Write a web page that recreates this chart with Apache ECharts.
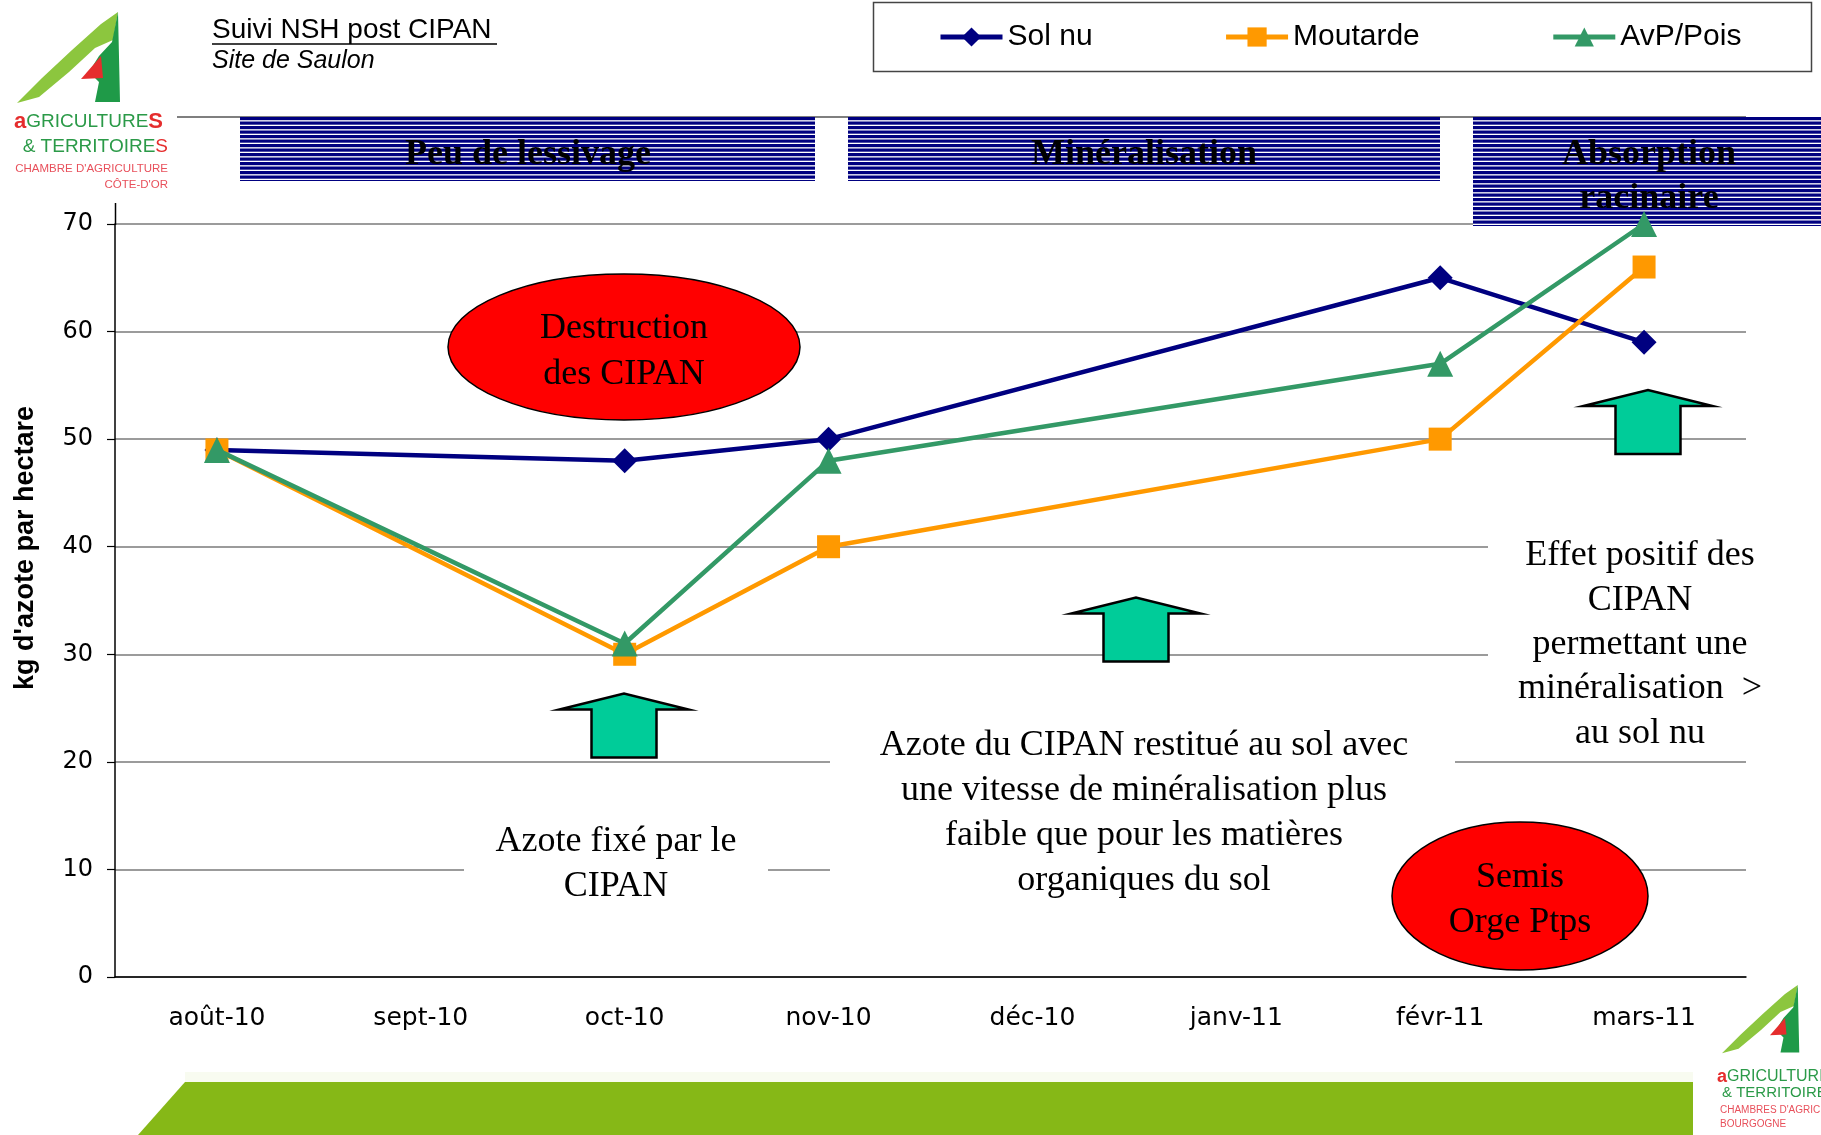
<!DOCTYPE html>
<html>
<head>
<meta charset="utf-8">
<script src="https://cdn.jsdelivr.net/npm/echarts@6.0.0/dist/echarts.min.js"></script>
<style>
html, body { margin: 0; padding: 0; background: #fff; }
#mainChart { width: 1821px; height: 1135px; }
</style>
</head>
<body>
<div id="mainChart"></div>
<script>
const months = ['août-10', 'sept-10', 'oct-10', 'nov-10', 'déc-10', 'janv-11', 'févr-11', 'mars-11'];
const solNu = [49, null, 48, 50, null, null, 65, 59];
const moutarde = [49, null, 30, 40, null, null, 50, 66];
const avpPois = [49, null, 31, 48, null, null, 57, 70];
const seriesNames = ['Sol nu', 'Moutarde', 'AvP/Pois'];
const seriesColors = ['#000080', '#FF9900', '#339966'];

// striped fill for the phase banners
function stripes() {
	const c = document.createElement('canvas');
	c.width = 8; c.height = 9;
	const ctx = c.getContext('2d');
	ctx.fillStyle = '#000080';
	ctx.fillRect(0, 0, 8, 9);
	ctx.fillStyle = '#ffffff';
	ctx.fillRect(0, 3.2, 8, 1.3);
	ctx.fillRect(0, 7.7, 8, 1.3);
	return { image: c, repeat: 'repeat' };
}
const stripeFill = stripes();

const serif = '"Liberation Serif", "Times New Roman", serif';
const sans = '"Liberation Sans", Arial, sans-serif';

function arrow(cx, tip) {
	const base = tip + 16, bottom = tip + 64;
	return {
		type: 'polygon', z: 30,
		shape: { points: [[cx - 64.5, base], [cx, tip], [cx + 64.5, base], [cx + 32.5, base], [cx + 32.5, bottom], [cx - 32.5, bottom], [cx - 32.5, base]] },
		style: { fill: '#00CC99', stroke: '#000', lineWidth: 2.5, lineJoin: 'miter' },
	};
}
function label(x, y, text, size, lh, extra) {
	return {
		type: 'text', z: 50, x, y: y + 3,
		style: Object.assign({
			text, fill: '#000', fontSize: size, fontFamily: serif, lineHeight: lh,
			align: 'center', verticalAlign: 'middle',
		}, extra || {}),
	};
}
function whiteBox(x, y, w, h) {
	return { type: 'rect', z: 10, shape: { x, y, width: w, height: h }, style: { fill: '#fff' } };
}
function banner(x, y, w, h) {
	return { type: 'rect', z: 10, shape: { x, y, width: w, height: h }, style: { fill: stripeFill } };
}
function logo(ox, oy, s, lines) {
	const p = pts => pts.map(([a, b]) => [ox + a * s, oy + b * s]);
	const items = [
		{ type: 'polygon', z: 5, shape: { points: p([[0, 91], [25, 66], [55, 38], [84, 12], [101, 0], [96, 28], [78, 36], [52, 60], [22, 85]]) }, style: { fill: '#8CC63E' } },
		{ type: 'polygon', z: 6, shape: { points: p([[101, 0], [103, 90], [78, 90], [82, 70], [72, 60], [82, 44], [95, 30]]) }, style: { fill: '#1F9A48' } },
		{ type: 'polygon', z: 7, shape: { points: p([[64, 67], [84, 44], [86, 66]]) }, style: { fill: '#E52D2D' } },
	];
	lines.forEach(l => items.push({
		type: 'text', z: 7, x: l.x, y: l.y,
		style: { text: l.text, rich: l.rich, fontSize: l.size, fontFamily: sans, fill: l.color, align: l.align || 'left', verticalAlign: 'middle' },
	}));
	return items;
}

const chart = echarts.init(document.getElementById('mainChart'));
chart.setOption({
	animation: false,
	backgroundColor: '#fff',
	grid: { left: 115, right: 75, top: 224, bottom: 158 },
	legend: {
		data: seriesNames,
		left: 938, top: 22, padding: 0,
		itemWidth: 62, itemHeight: 24, itemGap: 131,
		lineStyle: { width: 5 },
		textStyle: { fontSize: 30, fontFamily: sans, color: '#000' },
	},
	xAxis: {
		type: 'category',
		data: months,
		boundaryGap: true,
		axisLine: { lineStyle: { color: '#000', width: 1.5 } },
		axisTick: { length: 10, lineStyle: { color: '#000', width: 1.2 } },
		axisLabel: { margin: 29, fontSize: 25, fontFamily: '"DejaVu Sans", sans-serif', color: '#000' },
		splitLine: { show: false },
	},
	yAxis: {
		type: 'value',
		min: 0, max: 70, interval: 10,
		axisLine: { show: true, lineStyle: { color: '#000', width: 1.5 } },
		axisTick: { show: true, length: 8, lineStyle: { color: '#000', width: 1.2 } },
		axisLabel: { margin: 22, fontSize: 24, padding: [6, 0, 0, 0], fontFamily: '"DejaVu Sans", sans-serif', color: '#000' },
		splitLine: { lineStyle: { color: '#7a7a7a', width: 1.5 } },
	},
	series: [
		{ name: seriesNames[0], type: 'line', data: solNu, connectNulls: true, z: 20, symbol: 'diamond', symbolSize: 25, color: seriesColors[0], lineStyle: { width: 4.5, color: seriesColors[0] }, itemStyle: { color: seriesColors[0] } },
		{ name: seriesNames[1], type: 'line', data: moutarde, connectNulls: true, z: 21, symbol: 'rect', symbolSize: 23, color: seriesColors[1], lineStyle: { width: 4.5, color: seriesColors[1] }, itemStyle: { color: seriesColors[1] } },
		{ name: seriesNames[2], type: 'line', data: avpPois, connectNulls: true, z: 22, symbol: 'triangle', symbolSize: 26, color: seriesColors[2], lineStyle: { width: 4.5, color: seriesColors[2] }, itemStyle: { color: seriesColors[2] } },
	],
	graphic: [
		// header
		{ type: 'text', z: 50, x: 212, y: 30, style: { text: 'Suivi NSH post CIPAN', fontSize: 28, fontFamily: sans, fill: '#000', verticalAlign: 'middle' } },
		{ type: 'line', z: 50, shape: { x1: 212, y1: 44, x2: 497, y2: 44 }, style: { stroke: '#000', lineWidth: 1.5 } },
		{ type: 'text', z: 50, x: 212, y: 61, style: { text: 'Site de Saulon', fontSize: 25, fontStyle: 'italic', fontFamily: sans, fill: '#000', verticalAlign: 'middle' } },
		{ type: 'rect', z: 1, shape: { x: 873.5, y: 2.5, width: 938, height: 69 }, style: { fill: 'none', stroke: '#444', lineWidth: 1.5 } },
		{ type: 'line', z: 5, shape: { x1: 177, y1: 117, x2: 1746, y2: 117 }, style: { stroke: '#555', lineWidth: 1.5 } },
		{ type: 'line', z: 5, shape: { x1: 115.5, y1: 203, x2: 115.5, y2: 225 }, style: { stroke: '#000', lineWidth: 1.5 } },
		// y axis title
		{ type: 'text', z: 50, x: 26, y: 548, rotation: Math.PI / 2, style: { text: "kg d'azote par hectare", fontSize: 27, fontWeight: 'bold', fontFamily: sans, fill: '#000', align: 'center', verticalAlign: 'middle' } },
		// phases
		banner(240, 117, 575, 64),
		banner(848, 117, 592, 64),
		banner(1473, 117, 348, 109),
		label(528, 152, 'Peu de lessivage', 36, 44, { fontWeight: 'bold' }),
		label(1144, 152, 'Minéralisation', 36, 44, { fontWeight: 'bold' }),
		label(1649, 174, 'Absorption\nracinaire', 36, 44, { fontWeight: 'bold' }),
		// text boxes over the grid
		whiteBox(464, 795, 304, 110),
		whiteBox(830, 712, 625, 190),
		whiteBox(1488, 520, 300, 234),
		label(616, 861, 'Azote fixé par le\nCIPAN', 36, 44.5),
		label(1144, 810, 'Azote du CIPAN restitué au sol avec\nune vitesse de minéralisation plus\nfaible que pour les matières\norganiques du sol', 36, 44.7),
		label(1640, 641.5, 'Effet positif des\nCIPAN\npermettant une\nminéralisation  >\nau sol nu', 36, 44.3),
		// events
		{ type: 'ellipse', z: 40, shape: { cx: 624, cy: 347, rx: 176, ry: 73 }, style: { fill: '#FF0000', stroke: '#000', lineWidth: 1.5 } },
		label(624, 349, 'Destruction\ndes CIPAN', 36, 46),
		{ type: 'ellipse', z: 40, shape: { cx: 1520, cy: 896, rx: 128, ry: 74 }, style: { fill: '#FF0000', stroke: '#000', lineWidth: 1.5 } },
		label(1520, 897, 'Semis\nOrge Ptps', 36, 45.5),
		arrow(624, 693.5),
		arrow(1136, 597.5),
		arrow(1648, 390),
		// footer band
		{ type: 'rect', z: 1, shape: { x: 185, y: 1072, width: 1508, height: 10 }, style: { fill: '#F8FBF0' } },
		{ type: 'polygon', z: 2, shape: { points: [[185, 1082], [1693, 1082], [1693, 1135], [138, 1135]] }, style: { fill: '#86B817' } },
		// logos
		...logo(17, 12, 1, [
			{ x: 14, y: 122, size: 20, text: '{r|a}{g|GRICULTURE}{r|S}', rich: { r: { fill: '#E52D2D', fontSize: 22, fontWeight: 'bold', fontFamily: sans }, g: { fill: '#2B9A48', fontSize: 19, fontFamily: sans } } },
			{ x: 168, y: 147, size: 19, align: 'right', text: '{g|& TERRITOIRE}{r|S}', rich: { r: { fill: '#E52D2D', fontSize: 19, fontFamily: sans }, g: { fill: '#2B9A48', fontSize: 19, fontFamily: sans } } },
			{ x: 168, y: 169, size: 11.5, align: 'right', color: '#E8505B', text: "CHAMBRE D'AGRICULTURE" },
			{ x: 168, y: 185, size: 11.5, align: 'right', color: '#E8505B', text: "CÔTE-D'OR" },
		]),
		...logo(1722, 985, 0.75, [
			{ x: 1717, y: 1077, size: 16, text: '{r|a}{g|GRICULTURES}', rich: { r: { fill: '#E52D2D', fontSize: 18, fontWeight: 'bold', fontFamily: sans }, g: { fill: '#2B9A48', fontSize: 16, fontFamily: sans } } },
			{ x: 1722, y: 1093, size: 15, color: '#2B9A48', text: '& TERRITOIRES' },
			{ x: 1720, y: 1110, size: 10, color: '#E8505B', text: "CHAMBRES D'AGRICULTURE" },
			{ x: 1720, y: 1124, size: 10, color: '#E8505B', text: 'BOURGOGNE' },
		]),
	],
});
</script>
</body>
</html>
